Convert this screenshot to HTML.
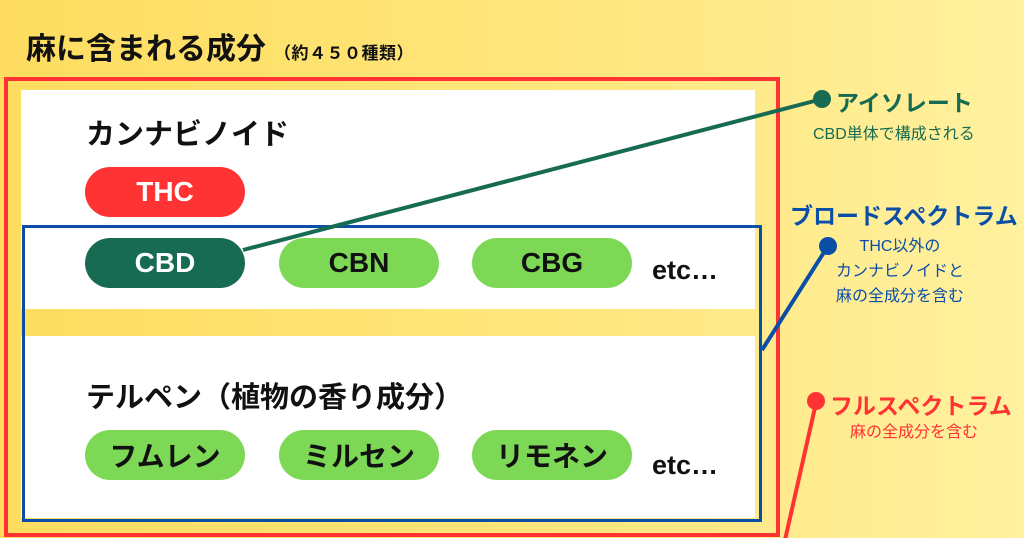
<!DOCTYPE html>
<html><head><meta charset="utf-8"><style>
*{margin:0;padding:0;box-sizing:border-box}
body{width:1024px;height:538px;overflow:hidden;position:relative;background:linear-gradient(90deg,#fedd5f 0%,#ffe780 60%,#fff1a0 100%);font-family:"Liberation Sans","Noto Sans CJK JP",sans-serif;font-weight:bold}
.abs{position:absolute}
.pill{position:absolute;width:160px;height:50px;border-radius:25px;display:flex;align-items:center;justify-content:center;font-size:28px}
.g{background:#7dd856;color:#111}
.h{position:absolute;font-size:29px;color:#111}
.etc{position:absolute;font-size:27px;color:#111}
</style></head><body>
<div class="abs" style="left:26px;top:24px;font-size:30px;color:#111;white-space:nowrap">麻に含まれる成分<span style="font-size:17px;margin-left:8px;letter-spacing:0.5px">（約４５０種類）</span></div>
<div class="abs" style="left:21px;top:90px;width:734px;height:219px;background:#fff"></div>
<div class="abs" style="left:21px;top:336px;width:734px;height:182px;background:#fff"></div>
<div class="abs" style="left:4px;top:77px;width:776px;height:460px;border:4px solid #ff3333"></div>
<div class="abs" style="left:22px;top:225px;width:740px;height:297px;border:3.5px solid #0a4ea8"></div>
<div class="h" style="left:86px;top:111px">カンナビノイド</div>
<div class="pill" style="left:85px;top:167px;background:#ff3333;color:#fff">THC</div>
<div class="pill" style="left:85px;top:238px;background:#176b52;color:#fff">CBD</div>
<div class="pill g" style="left:279px;top:238px">CBN</div>
<div class="pill g" style="left:472px;top:238px">CBG</div>
<div class="etc" style="left:652px;top:255px">etc…</div>
<div class="h" style="left:86px;top:374px">テルペン（植物の香り成分）</div>
<div class="pill g" style="left:85px;top:430px">フムレン</div>
<div class="pill g" style="left:279px;top:430px">ミルセン</div>
<div class="pill g" style="left:472px;top:430px">リモネン</div>
<div class="etc" style="left:652px;top:450px">etc…</div>
<svg class="abs" style="left:0;top:0" width="1024" height="538">
<line x1="243" y1="250" x2="822" y2="99" stroke="#176b52" stroke-width="4"/>
<circle cx="822" cy="99" r="9" fill="#176b52"/>
<line x1="762" y1="350" x2="828" y2="246" stroke="#0a4ea8" stroke-width="4"/>
<circle cx="828" cy="246" r="9" fill="#0a4ea8"/>
<line x1="785" y1="540" x2="816" y2="403" stroke="#ff3333" stroke-width="4"/>
<circle cx="816" cy="401" r="9" fill="#ff3333"/>
</svg>
<div class="abs" style="left:836px;top:84px;font-size:23px;color:#176b52">アイソレート</div>
<div class="abs" style="left:813px;top:120px;font-size:16px;color:#176b52;font-weight:normal;white-space:nowrap">CBD単体で構成される</div>
<div class="abs" style="left:790px;top:197px;font-size:23px;color:#0a4ea8;white-space:nowrap">ブロードスペクトラム</div>
<div class="abs" style="left:830px;top:234px;width:140px;font-size:16px;color:#0a4ea8;font-weight:normal;text-align:center;line-height:25px">THC以外の<br>カンナビノイドと<br>麻の全成分を含む</div>
<div class="abs" style="left:830px;top:387px;font-size:23px;color:#ff3333;white-space:nowrap">フルスペクトラム</div>
<div class="abs" style="left:850px;top:418px;font-size:16px;color:#ff3333;font-weight:normal;white-space:nowrap">麻の全成分を含む</div>
</body></html>
